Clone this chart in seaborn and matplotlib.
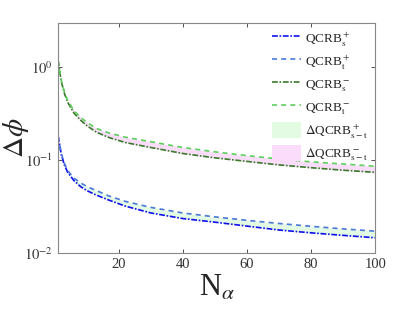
import numpy as np
import pandas as pd
import matplotlib
matplotlib.use("Agg")
import matplotlib.pyplot as plt
import seaborn as sns
from matplotlib.patches import Patch

# values
n_alpha = [1, 2, 3, 4, 6, 8, 10, 13, 17, 22, 30, 40, 50, 60, 70, 80, 90, 100]
qcrb_s_plus = [0.182, 0.115, 0.088, 0.074, 0.060, 0.052, 0.047, 0.042, 0.037, 0.032,
               0.027, 0.0235, 0.0215, 0.0195, 0.0177, 0.0165, 0.0155, 0.0146]
qcrb_t_plus = [0.182, 0.118, 0.092, 0.077, 0.064, 0.057, 0.052, 0.047, 0.041, 0.036,
               0.031, 0.027, 0.0245, 0.0225, 0.0208, 0.0194, 0.0182, 0.0172]
qcrb_s_minus = [1.19, 0.70, 0.52, 0.42, 0.32, 0.27, 0.235, 0.20, 0.175, 0.155,
                0.137, 0.118, 0.106, 0.097, 0.089, 0.083, 0.078, 0.074]
qcrb_t_minus = [1.19, 0.72, 0.54, 0.44, 0.34, 0.29, 0.255, 0.22, 0.196, 0.177,
                0.158, 0.137, 0.123, 0.112, 0.103, 0.096, 0.091, 0.086]

df = pd.DataFrame({"N": n_alpha, "sp": qcrb_s_plus, "tp": qcrb_t_plus,
                   "sm": qcrb_s_minus, "tm": qcrb_t_minus})

sns.set_style("ticks")
plt.rcParams['font.family'] = ['Liberation Serif', 'DejaVu Serif']
plt.rcParams['mathtext.fontset'] = 'stix'

fig = plt.figure(figsize=(4.15, 3.12), dpi=100)
ax = fig.add_axes([0.140, 0.189, 0.764, 0.737])

fill_plus = '#e2fbe2'
fill_minus = '#fbdcfb'
ax.fill_between(df["N"], df["sp"], df["tp"], color=fill_plus, lw=0)
ax.fill_between(df["N"], df["sm"], df["tm"], color=fill_minus, lw=0)

dashdot = (0, (3.5, 1, 1, 1))
dashed = (0, (3, 2.5))
lw = 1.2
sns.lineplot(data=df, x="N", y="sp", ax=ax, color='#1010ee', lw=lw, linestyle=dashdot)
sns.lineplot(data=df, x="N", y="tp", ax=ax, color='#4a78d8', lw=lw, linestyle=dashed)
sns.lineplot(data=df, x="N", y="sm", ax=ax, color='#3a7a2a', lw=lw, linestyle=dashdot)
sns.lineplot(data=df, x="N", y="tm", ax=ax, color='#5cd05c', lw=lw, linestyle=dashed)

ax.set_yscale('log')
ax.set_xlim(1, 100)
ax.set_ylim(0.01, 3)
ax.set_xticks([20, 40, 60, 80, 100])
ax.set_yticks([0.01, 0.1, 1])
ax.set_yticklabels([r'$10^{-2}$', r'$10^{-1}$', r'$10^{0}$'])
ax.yaxis.set_minor_locator(matplotlib.ticker.NullLocator())
ax.tick_params(direction='in', top=True, right=True, length=3, width=0.6,
               colors='#333333', labelsize=10.5, labelcolor='#333333')
for s in ax.spines.values():
    s.set_color('#888888')
    s.set_linewidth(0.8)

ax.set_xlabel(r'N$_\alpha$', fontsize=22, labelpad=2)
ax.set_ylabel(r'$\Delta\phi$', fontsize=21)
ax.yaxis.set_label_coords(-0.085, 0.5)

handles = [
    plt.Line2D([], [], color='#1010ee', lw=lw, linestyle=dashdot),
    plt.Line2D([], [], color='#4a78d8', lw=lw, linestyle=dashed),
    plt.Line2D([], [], color='#3a7a2a', lw=lw, linestyle=dashdot),
    plt.Line2D([], [], color='#5cd05c', lw=lw, linestyle=dashed),
    Patch(facecolor=fill_plus, edgecolor='none'),
    Patch(facecolor=fill_minus, edgecolor='none'),
]
labels = [r'QCRB$_\mathrm{s}^+$', r'QCRB$_\mathrm{t}^+$', r'QCRB$_\mathrm{s}^-$',
          r'QCRB$_\mathrm{t}^-$', r'$\Delta$QCRB$_\mathrm{s-t}^+$',
          r'$\Delta$QCRB$_\mathrm{s-t}^-$']
leg = ax.legend(handles, labels, loc='upper right', frameon=False, fontsize=9.5,
                handlelength=2.2, handleheight=1.4, labelspacing=0.4,
                borderaxespad=0.1, handletextpad=0.3)

fig.savefig('out.png', dpi=100)
